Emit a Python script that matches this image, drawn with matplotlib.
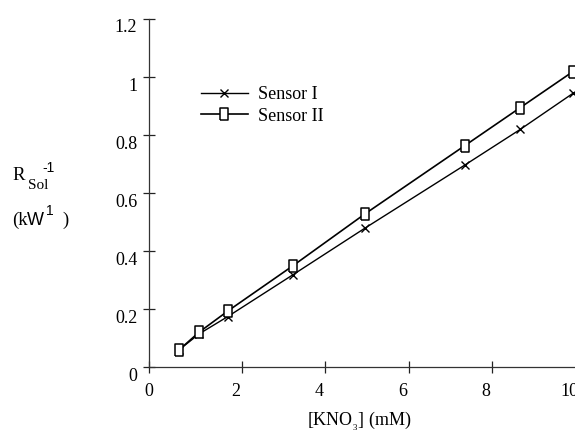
import numpy as np
import matplotlib.pyplot as plt
from matplotlib.transforms import ScaledTranslation

plt.rcParams['font.family'] = ['Liberation Serif', 'DejaVu Serif']
plt.rcParams['mathtext.fontset'] = 'custom'
plt.rcParams['mathtext.rm'] = 'Liberation Serif'
plt.rcParams['mathtext.sf'] = 'Liberation Sans'

# [KNO3] in mM
conc = [0.50, 0.98, 1.67, 3.22, 4.95, 7.35, 8.68, 9.94]
sensor_1 = [0.060, 0.115, 0.175, 0.318, 0.479, 0.697, 0.820, 0.944]
sensor_2 = [0.060, 0.121, 0.194, 0.349, 0.528, 0.764, 0.895, 1.019]

x_ticks = [-0.22, 2, 4, 6, 8, 10]
x_tick_labels = ['0', '2', '4', '6', '8', '10']
y_ticks = [0, 0.2, 0.4, 0.6, 0.8, 1.0, 1.2]
y_tick_labels = ['0', '0.2', '0.4', '0.6', '0.8', '1', '1.2']

W, H = 575, 432
fig = plt.figure(figsize=(W / 100, H / 100), dpi=100)
# axes in pixel terms: left 149, right 575.5, bottom 367.3, top 19
ax = fig.add_axes([149 / W, (H - 367.3) / H, (575.5 - 149) / W, (367.3 - 19) / H])

rect = [(-0.35, -0.5), (0.35, -0.5), (0.35, 0.5), (-0.35, 0.5), (-0.35, -0.5)]

ax.plot(conc, sensor_1, color='black', lw=1.0, marker='x', ms=5.5, mew=1.0,
        clip_on=False, label='Sensor I')
ax.plot(conc, sensor_2, color='black', lw=1.2, marker=rect, ms=8.5, mew=1.1,
        mfc='white', mec='black', clip_on=False, label='Sensor II')

ax.set_xlim(-0.22, 10)
ax.set_ylim(0, 1.2)
ax.set_xticks(x_ticks)
ax.set_xticklabels(x_tick_labels)
ax.set_yticks(y_ticks)
ax.set_yticklabels(y_tick_labels)

for s in ['top', 'right']:
    ax.spines[s].set_visible(False)
for s in ['left', 'bottom']:
    ax.spines[s].set_linewidth(0.9)
    ax.spines[s].set_color('#333333')

ax.tick_params(axis='both', direction='inout', length=9, width=0.9,
               color='#222222', labelsize=13)
ax.tick_params(axis='x', pad=7)
ax.tick_params(axis='y', pad=4)

for lbl in ax.get_xticklabels()[1:]:
    lbl.set_transform(lbl.get_transform() + ScaledTranslation(-6 / 100, 0, fig.dpi_scale_trans))
for lbl in ax.get_yticklabels():
    lbl.set_transform(lbl.get_transform() + ScaledTranslation(0, -7 / 100, fig.dpi_scale_trans))

ax.legend(loc='upper left', bbox_to_anchor=(201 / W, (H - 86) / H),
          bbox_transform=fig.transFigure, frameon=False, fontsize=13,
          handlelength=2.6, handletextpad=0.55, labelspacing=0.25,
          borderpad=0, borderaxespad=0)

fig.text(359 / W, (H - 421) / H, r'[KNO$_{_{\mathregular{3}}}$] (mM)',
         fontsize=13, ha='center', va='center')

# y label: R_Sol^-1 (kW^1 )
fig.text(12 / W, (H - 180) / H, 'R', fontsize=13.5, va='baseline')
fig.text(28 / W, (H - 189) / H, 'Sol', fontsize=11, va='baseline')
fig.text(42 / W, (H - 172) / H, '-1', fontsize=10, va='baseline',
         family='Liberation Sans')
fig.text(12 / W, (H - 225) / H, '(k', fontsize=13.5, va='baseline')
fig.text(26.5 / W, (H - 225) / H, 'W', fontsize=13, va='baseline',
         family='Liberation Sans')
fig.text(46 / W, (H - 215) / H, '1', fontsize=10, va='baseline',
         family='Liberation Sans')
fig.text(62 / W, (H - 225) / H, ')', fontsize=13.5, va='baseline')

fig.savefig('out.png', dpi=100)
